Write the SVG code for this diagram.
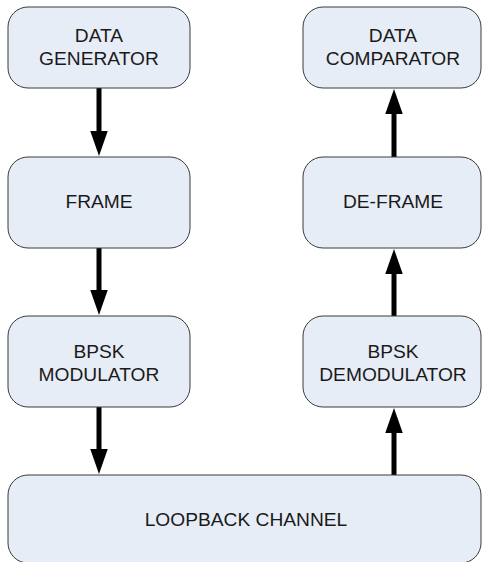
<svg xmlns="http://www.w3.org/2000/svg" width="482" height="562" viewBox="0 0 482 562">
<style>
.box{fill:#E7EDF7;stroke:#3A3A3A;stroke-width:1}
.lbl{font-family:"Liberation Sans",Arial,sans-serif;font-size:19.2px;fill:#1A1A1A;text-anchor:middle}
.conn{stroke:#000;stroke-width:5;fill:none;marker-end:url(#ah)}
</style>
<defs>
<marker id="ah" markerUnits="userSpaceOnUse" markerWidth="26" markerHeight="18" refX="0" refY="8.75" orient="auto" overflow="visible">
<path d="M0,0 L25,8.75 L0,17.5 Z" fill="#000"/>
</marker>
</defs>
<rect width="482" height="562" fill="#fff"/>
<g id="connectors">
<line class="conn" x1="99" y1="88" x2="99" y2="131"/>
<line class="conn" x1="99" y1="248" x2="99" y2="290"/>
<line class="conn" x1="99" y1="407" x2="99" y2="449"/>
<line class="conn" x1="394" y1="475" x2="394" y2="433"/>
<line class="conn" x1="394" y1="316" x2="394" y2="274"/>
<line class="conn" x1="394" y1="157" x2="394" y2="114"/>
</g>
<g id="data-generator">
<rect class="box" x="8" y="7" width="182" height="81" rx="20"/>
<text class="lbl" x="99" y="42">DATA</text>
<text class="lbl" x="99" y="65">GENERATOR</text>
</g>
<g id="frame">
<rect class="box" x="8" y="157" width="182" height="91" rx="20"/>
<text class="lbl" x="99" y="208">FRAME</text>
</g>
<g id="bpsk-modulator">
<rect class="box" x="8" y="316" width="182" height="91" rx="20"/>
<text class="lbl" x="99" y="358">BPSK</text>
<text class="lbl" x="99" y="381">MODULATOR</text>
</g>
<g id="data-comparator">
<rect class="box" x="303" y="7" width="178" height="81" rx="20"/>
<text class="lbl" x="393" y="42">DATA</text>
<text class="lbl" x="393" y="65">COMPARATOR</text>
</g>
<g id="de-frame">
<rect class="box" x="303" y="157" width="178" height="91" rx="20"/>
<text class="lbl" x="393" y="208">DE-FRAME</text>
</g>
<g id="bpsk-demodulator">
<rect class="box" x="303" y="316" width="178" height="91" rx="20"/>
<text class="lbl" x="393" y="358">BPSK</text>
<text class="lbl" x="393" y="381">DEMODULATOR</text>
</g>
<g id="loopback-channel">
<rect class="box" x="8" y="475" width="473" height="88" rx="20"/>
<text class="lbl" x="246" y="526">LOOPBACK CHANNEL</text>
</g>
</svg>
